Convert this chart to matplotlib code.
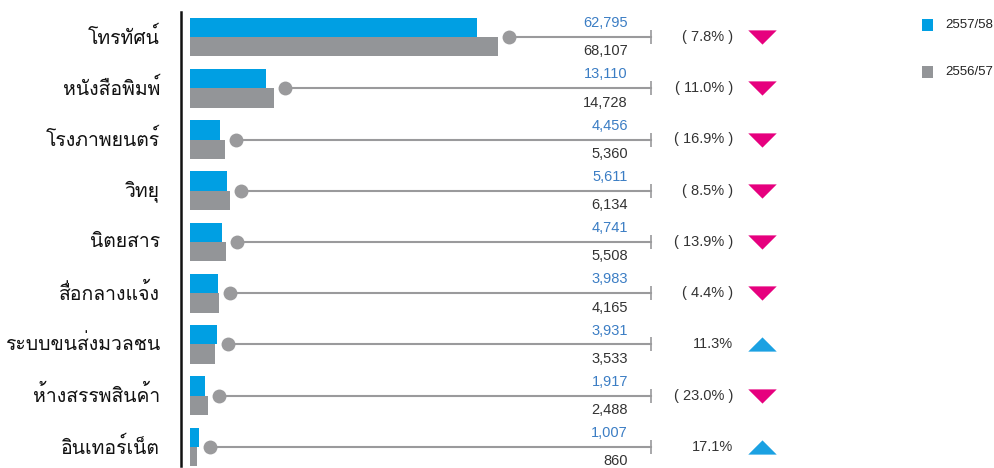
import matplotlib
matplotlib.use("Agg")
import matplotlib.pyplot as plt
from matplotlib import font_manager
from matplotlib.ft2font import FT2Font
import matplotlib.transforms as mtransforms
import numpy as np

categories = ["โทรทัศน์", "หนังสือพิมพ์", "โรงภาพยนตร์", "วิทยุ", "นิตยสาร",
              "สื่อกลางแจ้ง", "ระบบขนส่งมวลชน", "ห้างสรรพสินค้า", "อินเทอร์เน็ต"]
values_5758 = [62795, 13110, 4456, 5611, 4741, 3983, 3931, 1917, 1007]
values_5657 = [68107, 14728, 5360, 6134, 5508, 4165, 3533, 2488, 860]
change_pct = [-7.8, -11.0, -16.9, -8.5, -13.9, -4.4, 11.3, -23.0, 17.1]
legend_labels = ["2557/58", "2556/57"]

BLUE = "#009FE3"
GRAY = "#939598"
DOT = "#9A9A9C"
BLUE_TXT = "#3B7DC4"
PINK = "#E6007E"
UP = "#1BA1E2"

# find a font with Thai glyphs
thai_font = None
for f in font_manager.fontManager.ttflist:
    try:
        cm = FT2Font(f.fname).get_charmap()
        if 0x0E01 in cm and 0x0E4C in cm:
            thai_font = f.name
            if "Sans" in f.name or "Loma" in f.name or "Garuda" in f.name:
                break
    except Exception:
        pass
label_family = [thai_font, "DejaVu Sans"] if thai_font else ["DejaVu Sans"]
num_family = ["Liberation Sans", "DejaVu Sans"]

W, H = 995, 468
fig = plt.figure(figsize=(W / 100, H / 100), dpi=100)
ax_left = 190
ax = fig.add_axes([ax_left / W, 0, (W - ax_left) / W, 1])
ax.axis("off")

p = 0.85
ax.set_xscale("function", functions=(lambda x: np.power(np.clip(x, 0, None), p),
                                      lambda x: np.power(np.clip(x, 0, None), 1 / p)))
axw = W - ax_left
xmax = max(values_5657) * (axw / 308) ** (1 / p)
ax.set_xlim(0, xmax)

n = len(categories)
row0, step = 37, 51.25
ax.set_ylim((H - row0) / step, -row0 / step)

y = np.arange(n)
bh = 0.38
ax.barh(y - bh / 2, values_5758, height=bh, color=BLUE, linewidth=0)
ax.barh(y + bh / 2, values_5657, height=bh, color=GRAY, linewidth=0)

blend = mtransforms.blended_transform_factory(ax.transAxes, ax.transData)
def px(xpix):
    return (xpix - ax_left) / axw

line_end = px(651)
for i in range(n):
    mx = max(values_5758[i], values_5657[i])
    disp = ax.transData.transform((mx, i))[0] + 11
    dot_x = ax.transAxes.inverted().transform((disp, 0))[0]
    ax.plot([dot_x, line_end], [i, i], color=DOT, lw=1.5, transform=blend, zorder=2)
    ax.plot([dot_x], [i], marker="o", ms=10, color=DOT, mec="none", transform=blend, zorder=3)
    ax.plot([line_end], [i], marker="|", ms=10, mew=1.2, color=DOT, transform=blend, zorder=3)
    ax.text(px(628), i - 0.27, f"{values_5758[i]:,}", color=BLUE_TXT, fontsize=10.5,
            ha="right", va="center", transform=blend, family=num_family)
    ax.text(px(628), i + 0.28, f"{values_5657[i]:,}", color="#333333", fontsize=10.5,
            ha="right", va="center", transform=blend, family=num_family)
    c = change_pct[i]
    s = f"( {abs(c):.1f}% )" if c < 0 else f"{c:.1f}%"
    ax.text(px(733), i, s, color="#333333", fontsize=10.5, ha="right", va="center",
            transform=blend, family=num_family)
    if c < 0:
        verts = [(-1, 0.5), (1, 0.5), (0, -0.5), (-1, 0.5)]
        col = PINK
    else:
        verts = [(-1, -0.5), (1, -0.5), (0, 0.5), (-1, -0.5)]
        col = UP
    ax.scatter([px(762)], [i], marker=verts, s=420, color=col, linewidths=0,
               transform=blend, zorder=3)
    fig.text(160 / W, 1 - (row0 + step * i) / H, categories[i], ha="right", va="center",
             fontsize=14, family=label_family, color="#111111")

# vertical axis line
fig.add_artist(plt.Line2D([181 / W, 181 / W], [1 - 12 / H, 1 - 466 / H], color="#111111", lw=1.8))

# legend
for k, (lab, col, yy) in enumerate(zip(legend_labels, [BLUE, GRAY], [25, 72])):
    fig.add_artist(plt.Rectangle((922 / W, 1 - (yy + 5.5) / H), 11 / W, 11 / H,
                                 color=col, transform=fig.transFigure, lw=0))
    fig.text(945 / W, 1 - yy / H, lab, ha="left", va="center", fontsize=9.5,
             family=num_family, color="#222222")

fig.savefig("out.png", dpi=100)
